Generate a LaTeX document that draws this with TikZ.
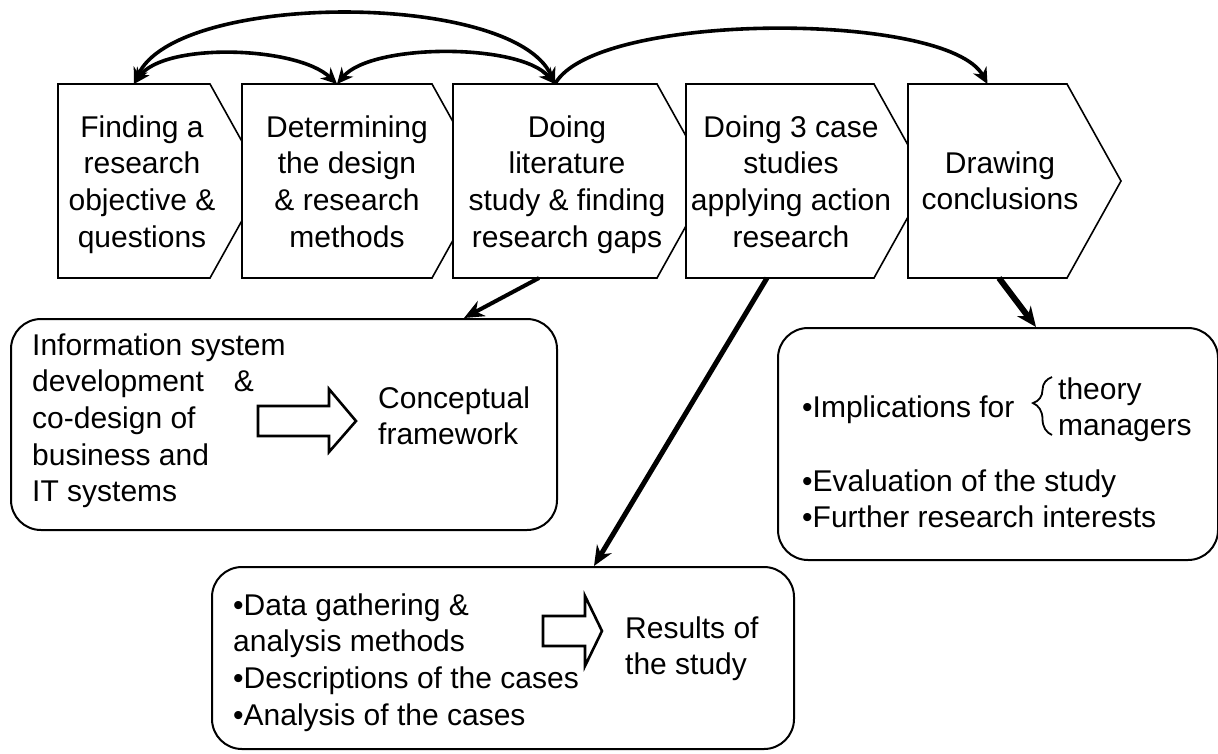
\documentclass[tikz,border=0pt]{standalone}
\usepackage{fontspec}
\setmainfont{Liberation Sans}
\usetikzlibrary{arrows.meta,decorations.pathreplacing}
\tikzset{>={Stealth[length=16pt,width=15pt]}}
\tikzset{
    body/.style={inner sep=0pt, outer sep=0pt, minimum height=194pt, anchor=north west},
    chevron/.style={draw, fill=white, line width=1.6pt, line join=miter},
    roundbox/.style={draw, rounded corners=30pt, line width=2pt, inner sep=0pt, anchor=north west},
    blockarrow/.style={draw, line width=2.6pt, line join=miter},
    steptext/.style={anchor=base, inner sep=0pt},
    boxtext/.style={anchor=base west, inner sep=0pt},
    link/.style={line width=3.6pt},
    feed/.style={>={Stealth[length=20pt,width=17pt]}, ->},
}

\begin{document}
\begin{tikzpicture}[x=1pt, y=-1pt, every node/.style={font=\fontsize{30}{36.7}\selectfont}]
    \useasboundingbox (0,0) rectangle (1218,753);
    % the five steps, each one covers the tip of the one before
    \foreach \n/\x/\w in {find/58/152, design/242/190, lit/453/204, cases/686/188, concl/908/159} {
        \node[body, minimum width=\w pt] (\n) at (\x,84) {};
        \draw[chevron] (\n.north west) -- (\n.north east) -- ++(54,97) -- (\n.south east) -- (\n.south west) -- cycle;
    }
    \node[steptext] (find-t) at (142,137) {\begin{tabular}[t]{@{}c@{}}Finding a\\research\\objective \&\\questions\end{tabular}};
    \node[steptext] (design-t) at (347,137) {\begin{tabular}[t]{@{}c@{}}Determining\\the design\\\& research\\methods\end{tabular}};
    \node[steptext] (lit-t) at (567,137) {\begin{tabular}[t]{@{}c@{}}Doing\\literature\\study \& finding\\research gaps\end{tabular}};
    \node[steptext] (cases-t) at (791,137) {\begin{tabular}[t]{@{}c@{}}Doing 3 case\\studies\\applying action\\research\end{tabular}};
    \node[steptext] (concl-t) at (1000,173) {\begin{tabular}[t]{@{}c@{}}Drawing\\conclusions\end{tabular}};

    % links between the steps
    \draw[link, <->] (find.north) .. controls +(42,-93) and +(-42,-93) .. (lit.north);
    \draw[link, <->] (find.north) .. controls +(30,-42) and +(-40,-38) .. (design.north);
    \draw[link, <->] (design.north) .. controls +(35,-41) and +(-35,-41) .. (lit.north);
    \draw[link, ->] (lit.north) .. controls +(40,-73) and +(-40,-73) .. (concl.north);

    % outcome boxes
    \node[roundbox, minimum width=546pt, minimum height=211pt] (infobox) at (10,318) {};
    \node[roundbox, minimum width=582pt, minimum height=182pt] (databox) at (211,566) {};
    \node[roundbox, minimum width=440pt, minimum height=232pt] (implbox) at (777,327) {};

    \node[boxtext] (info-t) at (32,355) {\begin{tabular}[t]{@{}l@{}}Information system\\development\hspace{1em}\&\\co-design of\\business and\\IT systems\end{tabular}};
    \draw[blockarrow] (258,406) -- (329,406) -- (329,389) -- (356,421) -- (329,452) -- (329,436) -- (258,436) -- cycle;
    \node[boxtext] (frame-t) at (378,408) {\begin{tabular}[t]{@{}l@{}}Conceptual\\framework\end{tabular}};

    \node[boxtext] (data-t) at (233,615) {\begin{tabular}[t]{@{}l@{}}•Data gathering \&\\analysis methods\\•Descriptions of the cases\\•Analysis of the cases\end{tabular}};
    \draw[blockarrow] (543,616) -- (585,616) -- (585,596) -- (602,631) -- (585,666) -- (585,646) -- (543,646) -- cycle;
    \node[boxtext] (result-t) at (625,638) {\begin{tabular}[t]{@{}l@{}}Results of\\the study\end{tabular}};

    \node[boxtext] (impl-t) at (802,417) {•Implications for};
    \draw[decorate, decoration={brace, amplitude=19pt, aspect=0.55}, line width=1.8pt] (1052,435) -- (1052,377);
    \node[boxtext] (who-t) at (1058,399) {\begin{tabular}[t]{@{}l@{}}theory\\managers\end{tabular}};
    \node[boxtext] (eval-t) at (802,491) {\begin{tabular}[t]{@{}l@{}}•Evaluation of the study\\•Further research interests\end{tabular}};

    % from the steps down to their outcomes
    \draw[feed, line width=4pt] ([xshift=-16pt]lit.south) -- ([xshift=180pt]infobox.north);
    \draw[feed, line width=5pt] ([xshift=-13pt]cases.south) -- ([xshift=91pt]databox.north);
    \draw[feed, line width=6pt] ([xshift=11.5pt]concl.south) -- ([xshift=38pt]implbox.north);
\end{tikzpicture}
\end{document}
